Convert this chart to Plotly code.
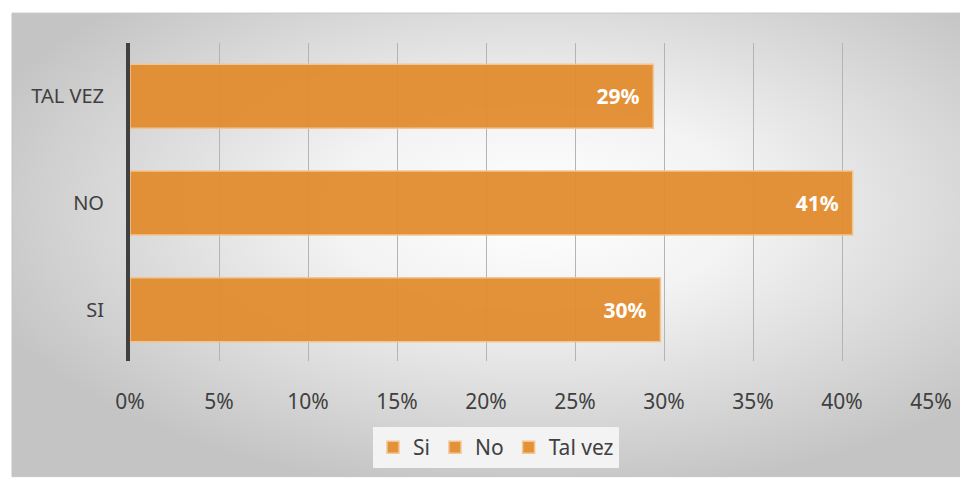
import urllib.parse
import plotly.graph_objects as go

# data
categorias = ["SI", "NO", "TAL VEZ"]
leyenda = ["Si", "No", "Tal vez"]
valores = [0.298, 0.406, 0.294]
etiquetas = ["30%", "41%", "29%"]
ticks_x = [0, 0.05, 0.10, 0.15, 0.20, 0.25, 0.30, 0.35, 0.40, 0.45]

NARANJA = "#E38C2E"
TEXTO = "#404040"
FUENTE = "Noto Sans"

# page body has an 8px margin, so work in shifted pixel coords
OFF = 8
W, H = 968 - OFF, 479 - OFF
L, R, T, B = 130 - OFF, 37, 43 - OFF, 117
pw, ph = W - L - R, H - T - B


def px_x(px):
    return (px - OFF - L) / pw


def px_y(py):
    return (H - B - (py - OFF)) / ph


# radial gray background like the office chart style
svg = (
    '<svg xmlns="http://www.w3.org/2000/svg" width="954" height="465">'
    '<defs><radialGradient id="g" cx="55%" cy="42%" r="62%">'
    '<stop offset="0" stop-color="#ffffff"/>'
    '<stop offset="0.35" stop-color="#f3f3f3"/>'
    '<stop offset="1" stop-color="#c4c4c4"/>'
    '</radialGradient></defs>'
    '<rect width="954" height="465" fill="url(#g)"/></svg>'
)
fondo = "data:image/svg+xml;charset=utf-8," + urllib.parse.quote(svg)

fig = go.Figure()

for cat, nombre, v, txt in zip(categorias, leyenda, valores, etiquetas):
    fig.add_trace(go.Bar(
        y=[cat],
        x=[v],
        orientation="h",
        name=nombre,
        marker=dict(color=NARANJA, line=dict(color="#F3C48E", width=1.5)),
        opacity=0.94,
        text=[txt + "\u00a0\u00a0"],
        textposition="inside",
        insidetextanchor="end",
        textfont=dict(color="white", size=21, family=FUENTE, weight="bold"),
        width=0.6,
    ))

fig.update_layout(
    width=W,
    height=H,
    margin=dict(l=L, r=R, t=T, b=B),
    paper_bgcolor="white",
    plot_bgcolor="rgba(0,0,0,0)",
    barmode="overlay",
    font=dict(family=FUENTE, size=20, color=TEXTO),
    showlegend=True,
    legend=dict(
        orientation="h",
        x=px_x(496),
        xanchor="center",
        y=px_y(427),
        yanchor="top",
        bgcolor="#f3f3f3",
        font=dict(size=21, color=TEXTO),
        itemwidth=30,
        traceorder="normal",
    ),
    xaxis=dict(
        range=[0, 0.45],
        tickvals=ticks_x,
        tickformat=".0%",
        showgrid=True,
        gridcolor="#b4b4b4",
        gridwidth=1,
        zeroline=False,
        showline=False,
        ticklabelstandoff=26,
        tickfont=dict(size=21, color=TEXTO),
    ),
    yaxis=dict(
        categoryorder="array",
        categoryarray=categorias,
        range=[-0.48, 2.5],
        showgrid=False,
        showline=True,
        linecolor="#404040",
        linewidth=4,
        zeroline=False,
        ticklabelstandoff=18,
        tickfont=dict(size=20, color=TEXTO),
    ),
    images=[dict(
        source=fondo,
        xref="paper", yref="paper",
        x=px_x(12), y=px_y(13),
        sizex=954 / pw, sizey=465 / ph,
        xanchor="left", yanchor="top",
        sizing="stretch",
        layer="below",
    )],
    shapes=[dict(
        type="rect",
        xref="paper", yref="paper",
        x0=px_x(12), x1=px_x(966),
        y0=px_y(478), y1=px_y(13),
        line=dict(color="#c4c4c4", width=1),
        fillcolor="rgba(0,0,0,0)",
        layer="below",
    )],
)

fig.write_html("out.html")
